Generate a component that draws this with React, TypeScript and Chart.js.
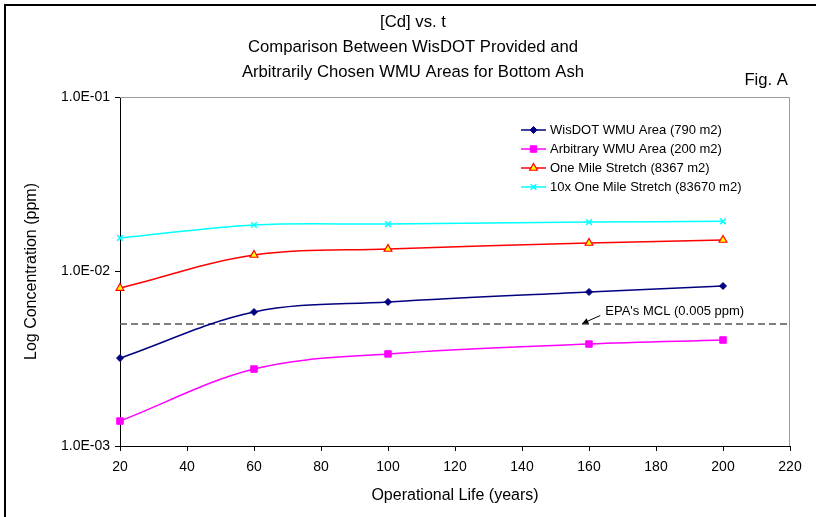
import React, { useEffect, useRef } from 'react';
import { Chart, registerables } from 'chart.js';
import { drawPoint } from 'chart.js/helpers';

Chart.register(...registerables);

// ---------- data ----------
const years = [20, 60, 100, 160, 200];
const wisdotArea = [0.00319, 0.00586, 0.00669, 0.00763, 0.00826];
const arbitraryArea = [0.00139, 0.00276, 0.00337, 0.00384, 0.00405];
const oneMileStretch = [0.00804, 0.01243, 0.01346, 0.01457, 0.01515];
const tenxOneMileStretch = [0.01556, 0.01847, 0.0187, 0.0192, 0.0194];
const mclValue = 0.005;
const mclRange = [20, 220];
const yTickValues = [0.001, 0.01, 0.1];
const seriesLabels = [
  'WisDOT WMU Area (790 m2)',
  'Arbitrary WMU Area (200 m2)',
  'One Mile Stretch (8367 m2)',
  '10x One Mile Stretch (83670 m2)',
];
const titleLines = [
  '[Cd] vs. t',
  'Comparison Between WisDOT Provided and',
  'Arbitrarily Chosen WMU Areas for Bottom Ash',
];
const figLabel = 'Fig. A';
const mclLabel = "EPA's MCL (0.005 ppm)";
const mclArrowX = 158;
const xTitle = 'Operational Life (years)';
const yTitle = 'Log Concentration (ppm)';

const FONT = "'Liberation Sans', Arial, sans-serif";

function fmtExp(v: number): string {
  const e = Math.round(Math.log10(v));
  const sign = e < 0 ? '-' : '+';
  return `1.0E${sign}${String(Math.abs(e)).padStart(2, '0')}`;
}

const toPts = (arr: number[]) => years.map((x, i) => ({ x, y: arr[i] }));

const seriesStyles = [
  { color: '#000080', pointStyle: 'rectRot', radius: 3.5, bg: '#000080', bw: 1 },
  { color: '#FF00FF', pointStyle: 'rect', radius: 4.6, bg: '#FF00FF', bw: 1 },
  { color: '#FF0000', pointStyle: 'triangle', radius: 4.5, bg: '#FFFF00', bw: 1.2 },
  { color: '#00FFFF', pointStyle: 'crossRot', radius: 4, bg: '#00FFFF', bw: 1.5 },
];
const seriesData = [wisdotArea, arbitraryArea, oneMileStretch, tenxOneMileStretch];

const decorPlugin = {
  id: 'decor',
  beforeDatasetsDraw(chart: any) {
    const { ctx, chartArea } = chart;
    ctx.save();
    ctx.strokeStyle = '#9a9a9a';
    ctx.lineWidth = 1;
    ctx.beginPath();
    ctx.moveTo(chartArea.left, chartArea.top + 0.5);
    ctx.lineTo(chartArea.right - 0.5, chartArea.top + 0.5);
    ctx.lineTo(chartArea.right - 0.5, chartArea.bottom);
    ctx.stroke();
    ctx.restore();
  },
  afterDraw(chart: any) {
    const { ctx, chartArea, scales } = chart;
    ctx.save();
    // outer frame
    ctx.fillStyle = '#000';
    ctx.fillRect(4, 4, 2, 513);
    ctx.fillRect(4, 4, 812, 2);

    // title
    ctx.fillStyle = '#000';
    ctx.textAlign = 'center';
    ctx.textBaseline = 'middle';
    ctx.font = `16.7px ${FONT}`;
    const tys = [22, 47, 72];
    titleLines.forEach((t, i) => ctx.fillText(t, 413, tys[i]));

    // Fig. A
    ctx.textAlign = 'right';
    ctx.fillText(figLabel, 788, 80);

    // legend
    ctx.font = `13px ${FONT}`;
    ctx.textAlign = 'left';
    const lx = chartArea.left + 401;
    const ly = chartArea.top + 33;
    seriesLabels.forEach((lab, i) => {
      const st = seriesStyles[i];
      const y = ly + i * 19;
      ctx.strokeStyle = st.color;
      ctx.lineWidth = 1.5;
      ctx.beginPath();
      ctx.moveTo(lx, y);
      ctx.lineTo(lx + 25, y);
      ctx.stroke();
      ctx.fillStyle = st.bg;
      ctx.strokeStyle = st.color;
      ctx.lineWidth = st.bw;
      drawPoint(ctx, { pointStyle: st.pointStyle as any, radius: st.radius, rotation: 0, borderWidth: st.bw }, lx + 12.5, y);
      ctx.fillStyle = '#000';
      ctx.fillText(lab, lx + 29, y);
    });

    // MCL annotation
    const tipX = scales.x.getPixelForValue(mclArrowX);
    const tipY = scales.y.getPixelForValue(mclValue) - 0.5;
    const tailX = tipX + 18;
    const tailY = tipY - 8;
    ctx.strokeStyle = '#000';
    ctx.fillStyle = '#000';
    ctx.lineWidth = 1;
    ctx.beginPath();
    ctx.moveTo(tailX, tailY);
    ctx.lineTo(tipX, tipY);
    ctx.stroke();
    const ang = Math.atan2(tipY - tailY, tipX - tailX);
    const hl = 6, hw = 3;
    ctx.beginPath();
    ctx.moveTo(tipX, tipY);
    ctx.lineTo(tipX - hl * Math.cos(ang) + hw * Math.sin(ang), tipY - hl * Math.sin(ang) - hw * Math.cos(ang));
    ctx.lineTo(tipX - hl * Math.cos(ang) - hw * Math.sin(ang), tipY - hl * Math.sin(ang) + hw * Math.cos(ang));
    ctx.closePath();
    ctx.fill();
    ctx.font = `13px ${FONT}`;
    ctx.textAlign = 'left';
    ctx.textBaseline = 'middle';
    ctx.fillText(mclLabel, tailX + 5, tailY - 4);
    ctx.restore();
  },
};

export default function App() {
  const ref = useRef<HTMLCanvasElement>(null);
  useEffect(() => {
    const datasets: any[] = seriesData.map((arr, i) => {
      const st = seriesStyles[i];
      return {
        label: seriesLabels[i],
        data: toPts(arr),
        borderColor: st.color,
        backgroundColor: st.bg,
        borderWidth: 1.5,
        pointStyle: st.pointStyle,
        pointRadius: st.radius,
        pointBorderWidth: st.bw,
        pointBorderColor: st.color,
        pointBackgroundColor: st.bg,
        tension: 0.35,
        clip: false,
      };
    });
    datasets.push({
      label: 'MCL',
      data: mclRange.map((x) => ({ x, y: mclValue })),
      borderColor: '#555555',
      borderDash: [7, 4],
      borderWidth: 1.5,
      pointRadius: 0,
      tension: 0,
      clip: false,
    });
    const chart = new Chart(ref.current as HTMLCanvasElement, {
      type: 'line',
      data: { datasets },
      options: {
        animation: false,
        responsive: false,
        devicePixelRatio: 1,
        layout: { padding: { left: 0, top: 97, right: 26, bottom: 0 } },
        plugins: {
          legend: { display: false },
          title: { display: false },
          tooltip: { enabled: false },
        },
        scales: {
          x: {
            type: 'linear',
            min: 20,
            max: 220,
            afterFit: (s: any) => {
              s.height = 71;
            },
            ticks: {
              stepSize: 20,
              color: '#000',
              font: { family: FONT, size: 14 },
              padding: 8,
              maxRotation: 0,
            },
            grid: { drawOnChartArea: false, drawTicks: true, tickLength: 5, color: '#000' },
            border: { display: true, color: '#000', width: 1 },
            title: {
              display: true,
              text: xTitle,
              color: '#000',
              font: { family: FONT, size: 16 },
              padding: { top: 0, bottom: 12 },
            },
          },
          y: {
            type: 'logarithmic',
            min: 0.001,
            max: 0.1,
            afterBuildTicks: (s: any) => {
              s.ticks = yTickValues.map((v) => ({ value: v }));
            },
            afterFit: (s: any) => {
              s.width = 120;
            },
            ticks: {
              callback: (v: any) => fmtExp(Number(v)),
              color: '#000',
              font: { family: FONT, size: 14 },
              padding: 5,
              autoSkip: false,
            },
            grid: { drawOnChartArea: false, drawTicks: true, tickLength: 5, color: '#000' },
            border: { display: true, color: '#000', width: 1 },
            title: {
              display: true,
              text: yTitle,
              color: '#000',
              font: { family: FONT, size: 16 },
              padding: { top: 22, bottom: 0 },
            },
          },
        },
      },
      plugins: [decorPlugin],
    } as any);
    return () => chart.destroy();
  }, []);
  return (
    <div style={{ position: 'fixed', left: 0, top: 0, width: 816, height: 517, background: '#fff' }}>
      <canvas ref={ref} width={816} height={517} style={{ display: 'block', width: 816, height: 517 }} />
    </div>
  );
}
